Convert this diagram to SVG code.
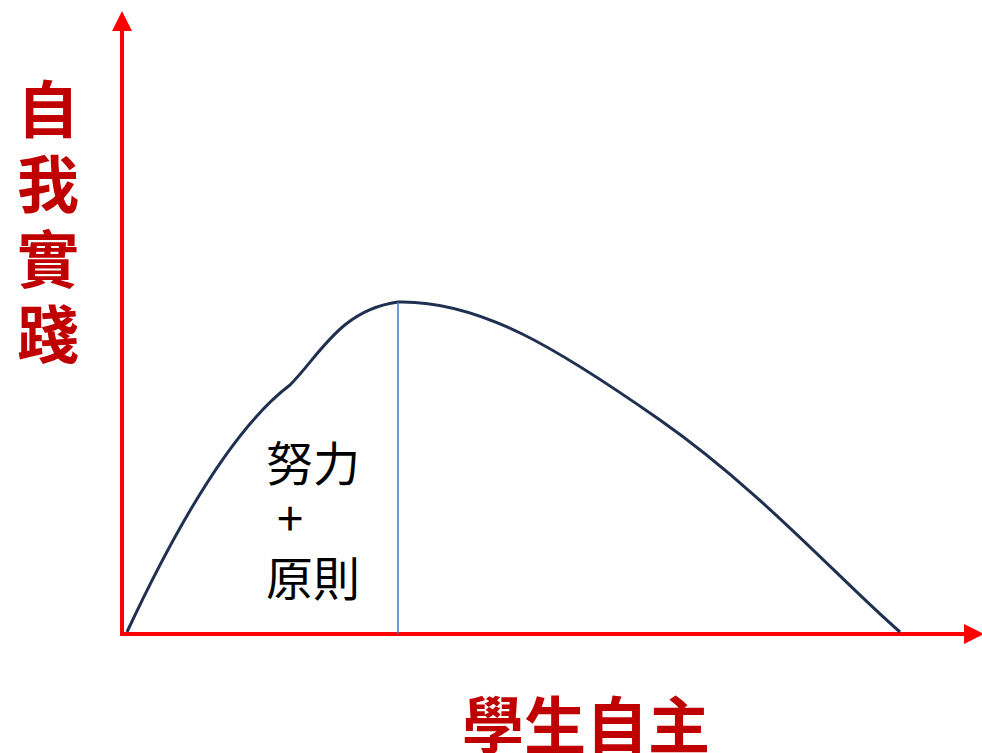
<svg xmlns="http://www.w3.org/2000/svg" width="982" height="753" viewBox="0 0 982 753">
<style>
.axis{stroke:#FF0000;stroke-width:4;fill:none}
.lbl{font-family:"Noto Sans CJK TC","Noto Sans CJK SC",sans-serif;font-weight:bold;fill:#C00000;font-size:62px}
.txt{font-family:"Noto Sans CJK TC","Noto Sans CJK SC",sans-serif;fill:#000;font-size:47px}
</style>
<defs>
<marker id="arr" markerWidth="5" markerHeight="5" refX="4" refY="2.5" orient="auto" markerUnits="strokeWidth">
<path d="M0,0 L5,2.5 L0,5 Z" fill="#FF0000"/>
</marker>
</defs>
<rect width="982" height="753" fill="#fff"/>
<g id="connectors">
<line class="axis" x1="122" y1="636" x2="122" y2="15" marker-end="url(#arr)"/>
<line class="axis" x1="120" y1="634" x2="980" y2="634" marker-end="url(#arr)"/>
<path d="M127,632 C170,540 230,430 290,385 C320,355 340,310 398,302 C480,300 560,350 660,420 C760,490 840,580 900,632" fill="none" stroke="#1F3050" stroke-width="3"/>
<line x1="398" y1="302" x2="398" y2="634" stroke="#4472C4" stroke-width="1.5"/>
</g>
<g id="ylabel">
<text class="lbl" x="48" y="78" writing-mode="vertical-rl" letter-spacing="13">自我實踐</text>
</g>
<g id="xlabel">
<text class="lbl" x="586" y="749" text-anchor="middle" font-size="64">學生自主</text>
</g>
<g id="annotation">
<text class="txt" text-anchor="middle"><tspan x="313" y="481">努力</tspan><tspan x="290" y="536">+</tspan><tspan x="313" y="596">原則</tspan></text>
</g>
</svg>
